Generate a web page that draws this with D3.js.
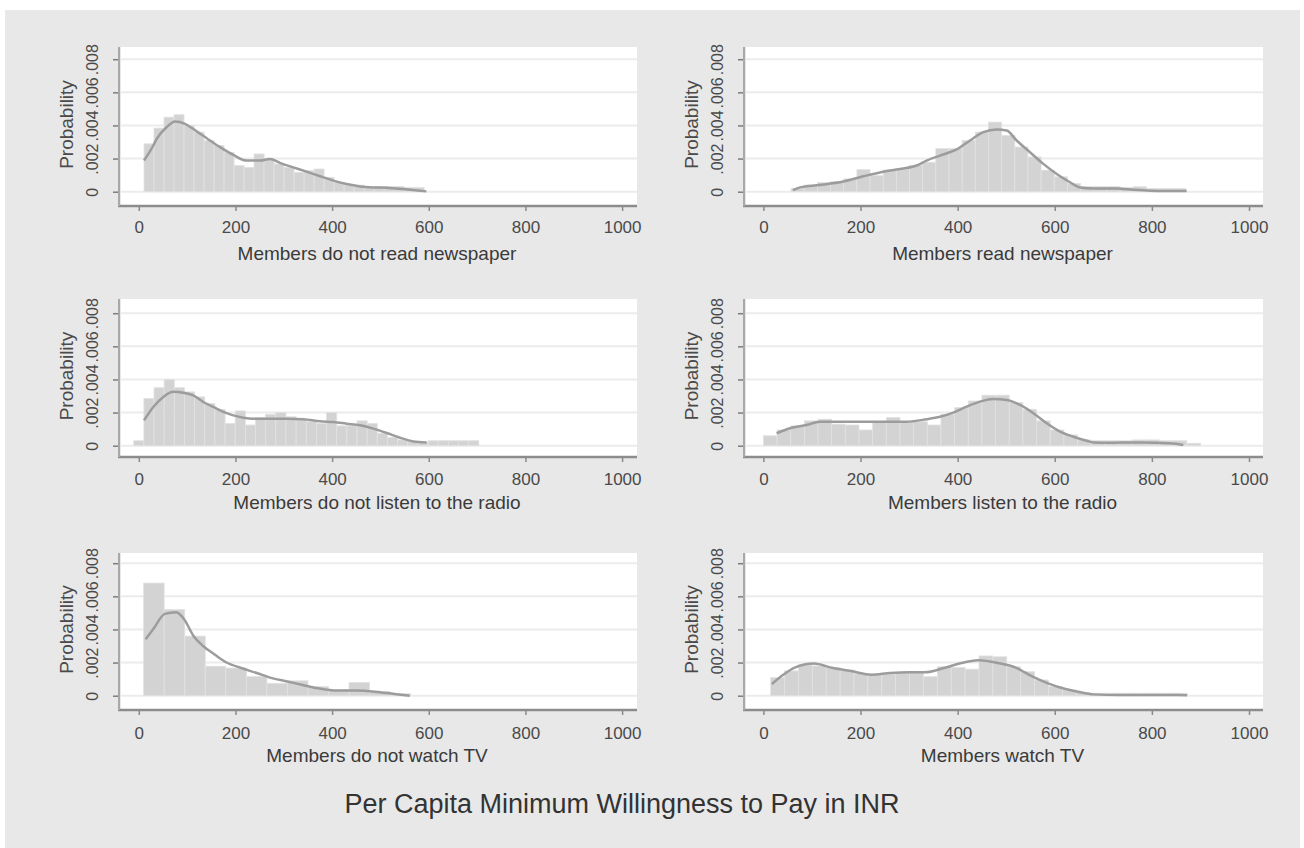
<!DOCTYPE html>
<html>
<head>
<meta charset="utf-8">
<script src="https://cdn.jsdelivr.net/npm/d3@7"></script>
<style>
  html, body { margin: 0; padding: 0; background: #ffffff; }
  svg { display: block; }
  text { font-family: "Liberation Sans", Arial, sans-serif; }
</style>
</head>
<body>
<svg id="chart" width="1304" height="848"></svg>
<script>
// ---------------- DATA ----------------
const mainTitle = "Per Capita Minimum Willingness to Pay in INR";
const yAxisTitle = "Probability";
const xTicks = [0, 200, 400, 600, 800, 1000];
const yTicks = [0, 0.002, 0.004, 0.006, 0.008];
const yTickLabels = ["0", ".002", ".004", ".006", ".008"];

const panelTitles = [
  "Members do not read newspaper",
  "Members read newspaper",
  "Members do not listen to the radio",
  "Members listen to the radio",
  "Members do not watch TV",
  "Members watch TV"
];

// histogram: first bin edge (INR), bin width (INR), densities (per 1000)
const binStarts = [10.8, 57, -10.5, 0, 10, 15];
const binWidths = [20.7, 27.1, 21, 28.125, 42.5, 28.6];

const hist1 = [2.89,3.84,4.5,4.65,4.0,3.6,3.09,2.79,2.38,1.58,1.47,2.28,1.98,1.68,1.47,1.17,1.27,1.37,0.87,0.57,0.4,0.4,0.26,0.32,0.32,0.32,0.26,0.26];
const hist2 = [0.2,0.4,0.55,0.6,0.77,1.33,0.97,1.31,1.37,1.6,1.78,2.6,2.6,3.1,3.6,4.2,3.4,2.7,2.1,1.3,0.9,0.5,0.32,0.32,0.32,0.26,0.3,0.2,0.2,0.2];
const hist3 = [0.3,2.85,3.5,4.0,3.5,3.25,2.95,2.55,2.2,1.35,2.1,1.25,1.7,1.9,2.0,1.75,1.6,1.45,1.35,2.0,1.2,1.2,1.5,1.35,0.75,0.5,0.35,0.25,0.2,0.3,0.3,0.3,0.3,0.3];
const hist4 = [0.6,0.95,1.2,1.5,1.6,1.3,1.25,0.95,1.4,1.7,1.4,1.45,1.25,1.9,2.3,2.7,3.05,3.05,2.6,2.2,1.5,0.95,0.65,0.35,0.3,0.3,0.3,0.35,0.35,0.3,0.3,0.15];
const hist5 = [6.8,5.2,3.6,1.78,1.67,1.16,0.75,0.9,0.55,0.35,0.8,0.25,0.12];
const hist6 = [1.1,1.5,1.85,1.8,1.7,1.55,1.35,1.25,1.3,1.4,1.4,1.15,1.75,1.7,1.6,2.4,2.35,1.75,1.45,0.95,0.55,0.35,0.2,0.15,0.15,0.15,0.15,0.15,0.15,0.15];

// kernel density: x (INR) and density (per 1000)
const kdeX1 = [10.8,30,37,57.7,75,95.6,119.8,140.5,168,195.6,223,250.8,271.5,292,319.7,347,375,402.5,430,457.7,485,513,547,582,595];
const kdeY1 = [1.88,2.79,3.19,3.9,4.24,4.1,3.64,3.23,2.69,2.22,1.88,1.88,1.98,1.74,1.47,1.21,0.93,0.67,0.46,0.32,0.26,0.24,0.16,0.06,0.02];
const kdeX2 = [61,75.4,116.5,164.6,205.8,247,281,315.6,336,363.7,398,425.4,453,480.4,500.9,521.5,549,576.5,604,631.4,652,679.5,727.5,761.8,796,830.5,871.6];
const kdeY2 = [0.1,0.26,0.4,0.61,0.93,1.21,1.37,1.58,1.88,2.18,2.55,3.09,3.6,3.76,3.7,3.09,2.38,1.68,1.07,0.57,0.26,0.2,0.2,0.12,0.06,0.04,0.04];
const kdeX3 = [10.8,30,50.8,71.4,92,112.8,133.5,154.2,174.9,195.6,216.3,237,271.5,306,340.4,375,402.5,430,457.7,485.3,513,540.5,568,595.7];
const kdeY3 = [1.53,2.34,2.94,3.25,3.2,3.04,2.64,2.34,2.04,1.83,1.69,1.63,1.63,1.63,1.6,1.47,1.43,1.33,1.23,1.03,0.77,0.48,0.26,0.2];
const kdeX4 = [27.3,54.8,89,116.6,157.8,226.4,295,336,363.7,391,418.6,446,473.6,501,528.6,556,583.4,610.9,638.3,665.8,679.5,707,775.5,844,864.7];
const kdeY4 = [0.75,1.05,1.25,1.45,1.45,1.45,1.45,1.6,1.75,2.0,2.36,2.66,2.82,2.76,2.46,1.96,1.35,0.85,0.54,0.3,0.2,0.18,0.2,0.14,0.04];
const kdeX5 = [14.2,30,53.8,77.6,93.4,113.2,133,156.8,180.5,212.2,243.9,275.5,307.2,338.9,370.6,410.2,449.8,489.4,529,560.7];
const kdeY5 = [3.41,4.02,4.94,5.04,4.63,3.61,3.0,2.49,2.02,1.67,1.37,1.06,0.86,0.65,0.45,0.31,0.31,0.24,0.1,0.0];
const kdeX6 = [17.4,41,64.6,104,143.4,182.8,222.2,261.6,301,332.6,372,403.5,443,482.4,521.8,553.3,584.8,616.3,647.9,679.4,734.5,852.8,872.5];
const kdeY6 = [0.71,1.27,1.7,1.94,1.67,1.47,1.27,1.37,1.41,1.41,1.67,1.94,2.14,1.98,1.67,1.16,0.76,0.45,0.24,0.08,0.04,0.04,0.02];

const hists = [hist1, hist2, hist3, hist4, hist5, hist6];
const kdeXs = [kdeX1, kdeX2, kdeX3, kdeX4, kdeX5, kdeX6];
const kdeYs = [kdeY1, kdeY2, kdeY3, kdeY4, kdeY5, kdeY6];

// ---------------- LAYOUT ----------------
const W = 1304, H = 848;
const cols = [
  { axisX: 119, plotL: 121, plotR: 637, x0: 138.8, x1: 622.1 },
  { axisX: 744, plotL: 746, plotR: 1263, x0: 763.4, x1: 1249 }
];
const rows = [
  { top: 47, axisY: 206, zero: 191.7, titleDy: 54, labelDy: 27 },
  { top: 299, axisY: 457, zero: 445.7, titleDy: 52, labelDy: 28 },
  { top: 553, axisY: 710, zero: 695.7, titleDy: 52, labelDy: 29 }
];
const yPxPer008 = 132.5;

const svg = d3.select("#chart");
svg.append("rect").attr("x", 0).attr("y", 0).attr("width", W).attr("height", H).attr("fill", "#ffffff");
svg.append("rect").attr("x", 5).attr("y", 10).attr("width", 1295).attr("height", 838).attr("fill", "#e8e8e8");

const line = d3.line().curve(d3.curveMonotoneX);

panelTitles.forEach((title, i) => {
  const c = cols[i % 2], r = rows[Math.floor(i / 2)];
  const x = d3.scaleLinear().domain([0, 1000]).range([c.x0, c.x1]);
  const y = d3.scaleLinear().domain([0, 0.008]).range([r.zero, r.zero - yPxPer008]);
  const g = svg.append("g");

  // plot region
  g.append("rect").attr("x", c.plotL).attr("y", r.top)
    .attr("width", c.plotR - c.plotL).attr("height", r.axisY - r.top).attr("fill", "#ffffff");

  // gridlines
  g.selectAll(".grid").data(yTicks).enter().append("line")
    .attr("x1", c.plotL).attr("x2", c.plotR)
    .attr("y1", d => y(d)).attr("y2", d => y(d))
    .attr("stroke", "#ececec").attr("stroke-width", 2);

  // histogram bars
  const bins = hists[i].map((h, k) => ({
    a: binStarts[i] + k * binWidths[i],
    b: binStarts[i] + (k + 1) * binWidths[i],
    d: h / 1000
  }));
  g.selectAll(".bar").data(bins).enter().append("rect")
    .attr("x", d => x(d.a)).attr("width", d => x(d.b) - x(d.a))
    .attr("y", d => y(d.d)).attr("height", d => y(0) - y(d.d))
    .attr("fill", "#d3d3d3").attr("stroke", "#e2e2e2").attr("stroke-width", 0.8);

  // kernel density
  const pts = kdeXs[i].map((v, k) => [x(v), y(kdeYs[i][k] / 1000)]);
  g.append("path").attr("d", line(pts))
    .attr("fill", "none").attr("stroke", "#9c9c9c").attr("stroke-width", 2.5);

  // x axis
  const xa = g.append("g").attr("transform", `translate(0,${r.axisY})`)
    .call(d3.axisBottom(x).tickValues(xTicks).tickSize(5).tickSizeOuter(0).tickFormat(d3.format("d")));
  xa.select(".domain").remove();
  xa.selectAll(".tick line").attr("stroke", "#8a8a8a").attr("stroke-width", 1.5);
  xa.selectAll(".tick text").attr("y", r.labelDy).attr("dy", 0)
    .attr("fill", "#4a4a4a").style("font-size", "17px").style("font-family", "'Liberation Sans', Arial, sans-serif");
  g.append("line").attr("x1", c.axisX - 1).attr("x2", c.plotR)
    .attr("y1", r.axisY).attr("y2", r.axisY)
    .attr("stroke", "#8c8c8c").attr("stroke-width", 2.5);

  // y axis
  const ya = g.append("g").attr("transform", `translate(${c.axisX},0)`)
    .call(d3.axisLeft(y).tickValues(yTicks).tickSize(6).tickSizeOuter(0)
      .tickFormat((d, k) => yTickLabels[k]));
  ya.select(".domain").remove();
  ya.selectAll(".tick line").attr("stroke", "#7c7c7c").attr("stroke-width", 1.5);
  ya.selectAll(".tick text")
    .attr("x", 0).attr("dy", 0).attr("y", 0)
    .attr("text-anchor", "middle")
    .attr("transform", "translate(-21,0) rotate(-90)")
    .attr("fill", "#4a4a4a").style("font-size", "16px").style("font-family", "'Liberation Sans', Arial, sans-serif");
  g.append("line").attr("x1", c.axisX).attr("x2", c.axisX)
    .attr("y1", r.top).attr("y2", r.axisY)
    .attr("stroke", "#a8a8a8").attr("stroke-width", 2);

  // y title
  g.append("text")
    .attr("transform", `translate(${c.axisX - 46},${(r.top + r.axisY) / 2 - 2}) rotate(-90)`)
    .attr("text-anchor", "middle").attr("fill", "#4a4a4a")
    .style("font-size", "19px").text(yAxisTitle);

  // x title
  g.append("text")
    .attr("x", (c.plotL + c.plotR) / 2 - 2).attr("y", r.axisY + r.titleDy)
    .attr("text-anchor", "middle").attr("fill", "#3a3a3a")
    .style("font-size", "19px").text(title);
});

svg.append("text").attr("x", 622).attr("y", 813)
  .attr("text-anchor", "middle").attr("fill", "#333333")
  .style("font-size", "27px").text(mainTitle);
</script>
</body>
</html>
